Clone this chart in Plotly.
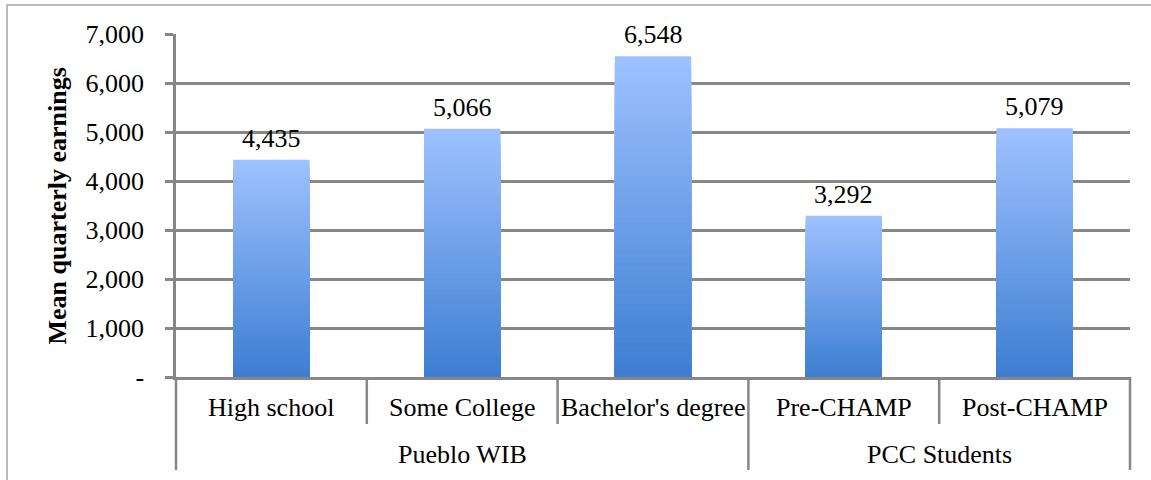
import plotly.graph_objects as go

# Mean quarterly earnings by group
groups = ["Pueblo WIB", "Pueblo WIB", "Pueblo WIB", "PCC Students", "PCC Students"]
categories = ["High school", "Some College", "Bachelor's degree", "Pre-CHAMP", "Post-CHAMP"]
earnings = [4435, 5066, 6548, 3292, 5079]

y_tickvals = [0, 1000, 2000, 3000, 4000, 5000, 6000, 7000]
y_ticktext = ["-", "1,000", "2,000", "3,000", "4,000", "5,000", "6,000", "7,000"]

FONT = "Liberation Serif"
GRID = "#878787"
TOP_RGB = (157, 193, 255)
BOTTOM_RGB = (62, 126, 209)
N_LAYERS = 48

x_idx = list(range(len(categories)))
fig = go.Figure()

# Vertical gradient on each bar: overlay progressively shorter, darker bars
for k in range(N_LAYERS):
    t = k / (N_LAYERS - 1)
    rgb = tuple(round(a + (b - a) * t) for a, b in zip(TOP_RGB, BOTTOM_RGB))
    fig.add_trace(go.Bar(
        x=x_idx,
        y=[v * (N_LAYERS - k) / N_LAYERS for v in earnings],
        width=0.4,
        marker=dict(color="rgb(%d,%d,%d)" % rgb, line=dict(width=0)),
        hoverinfo="skip",
        showlegend=False,
    ))

annotations = []
# value labels above the bars
for i, v in enumerate(earnings):
    annotations.append(dict(
        x=i, y=v, xref="x", yref="y", text=f"{v:,}", showarrow=False,
        yanchor="bottom", yshift=5, font=dict(family=FONT, size=26, color="black"),
    ))
# category labels
for i, c in enumerate(categories):
    annotations.append(dict(
        x=i, y=-0.0875, xref="x", yref="paper", text=c, showarrow=False,
        yanchor="middle", font=dict(family=FONT, size=26, color="black"),
    ))
# group labels, centred under their categories
group_names = []
for g in groups:
    if g not in group_names:
        group_names.append(g)
for g in group_names:
    idx = [i for i, gg in enumerate(groups) if gg == g]
    annotations.append(dict(
        x=(idx[0] + idx[-1]) / 2, y=-0.227, xref="x", yref="paper", text=g,
        showarrow=False, yanchor="middle",
        font=dict(family=FONT, size=26, color="black"),
    ))
# y axis title
annotations.append(dict(
    x=-0.1237, y=0.5, xref="paper", yref="paper", text="Mean quarterly earnings",
    textangle=-90, showarrow=False, xanchor="center", yanchor="middle",
    font=dict(family=FONT, size=26, color="black", weight="bold"),
))

shapes = []
n = len(categories)
short_y, long_y = -0.137, -0.271
# table borders below the axis: outer edges and group boundaries are long
for k in range(n + 1):
    is_long = k in (0, n) or (0 < k < n and groups[k] != groups[k - 1])
    shapes.append(dict(
        type="line", xref="paper", yref="paper",
        x0=k / n, x1=k / n, y0=0, y1=long_y if is_long else short_y,
        line=dict(color=GRID, width=2.5),
    ))
# outer chart frame
shapes.append(dict(
    type="rect", xref="paper", yref="paper",
    x0=-0.1771, x1=1.2, y0=1.0845, y1=-0.6,
    line=dict(color="#A5A5A5", width=1.5),
))

fig.update_layout(
    width=1151, height=480,
    margin=dict(l=176, r=21, t=34, b=103),
    barmode="overlay",
    plot_bgcolor="white", paper_bgcolor="white",
    font=dict(family=FONT, color="black"),
    annotations=annotations,
    shapes=shapes,
    xaxis=dict(
        range=[-0.5, n - 0.5], showticklabels=False, showgrid=False,
        zeroline=False, showline=True, linecolor=GRID, linewidth=2.5,
        ticks="", fixedrange=True,
    ),
    yaxis=dict(
        range=[0, 7000], tickvals=y_tickvals, ticktext=y_ticktext,
        showgrid=True, gridcolor=GRID, gridwidth=2.5,
        zeroline=False, showline=True, linecolor=GRID, linewidth=2.5,
        ticks="outside", ticklen=8, tickwidth=2.5, tickcolor=GRID,
        ticklabelstandoff=16,
        tickfont=dict(family=FONT, size=26, color="black"),
        fixedrange=True,
    ),
)

fig.write_html("out.html")
